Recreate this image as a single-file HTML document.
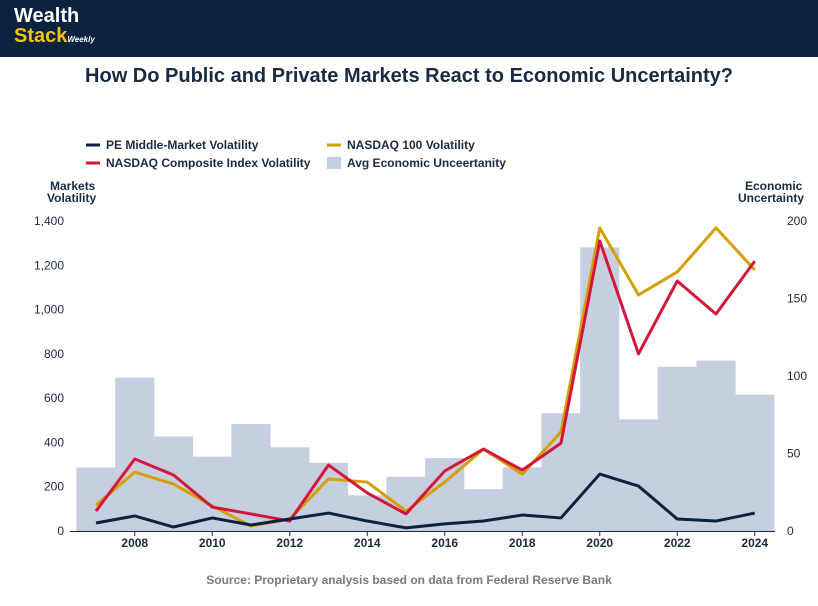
<!DOCTYPE html>
<html><head><meta charset="utf-8"><style>
body{margin:0;width:818px;height:606px;background:#fff;font-family:"Liberation Sans",sans-serif;overflow:hidden;position:relative}
#hdr{position:absolute;left:0;top:0;width:818px;height:57px;background:#0c2340}
.t{position:absolute}
</style></head><body>
<div id="hdr">
 <div class="t" style="left:14px;top:6px;line-height:20px;font-weight:bold;font-size:20px">
  <div style="color:#fff">Wealth</div>
  <div style="color:#f5c400">Stack<span style="color:#fff;font-size:8px;font-style:italic">Weekly</span></div>
 </div>
</div>
<div class="t" style="left:0;width:818px;top:65px;text-align:center;font-weight:bold;font-size:20px;color:#1a2a40">How Do Public and Private Markets React to Economic Uncertainty?</div>
<svg width="818" height="606" style="position:absolute;left:0;top:0" id="c">
<g font-family="Liberation Sans" font-size="12" font-weight="bold" fill="#1a2a40">
 <line x1="86" y1="145" x2="100" y2="145" stroke="#0c2340" stroke-width="3"/>
 <text x="106" y="149">PE Middle-Market Volatility</text>
 <line x1="86" y1="163" x2="100" y2="163" stroke="#d4163c" stroke-width="3"/>
 <text x="106" y="167">NASDAQ Composite Index Volatility</text>
 <line x1="327" y1="145" x2="341" y2="145" stroke="#d4a000" stroke-width="3"/>
 <text x="347" y="149">NASDAQ 100 Volatility</text>
 <rect x="327" y="157" width="14" height="12" fill="#c5cfe0"/>
 <text x="347" y="167">Avg Economic Unceertanity</text>
 <text x="50" y="190">Markets</text>
 <text x="47" y="202">Volatility</text>
 <text x="745" y="190">Economic</text>
 <text x="738" y="202">Uncertainty</text>
</g>
<g id="plot"></g>
<text x="409" y="584" text-anchor="middle" font-family="Liberation Sans" font-size="12" font-weight="bold" fill="#7a7a7a">Source: Proprietary analysis based on data from Federal Reserve Bank</text>
</svg>
<script>
const years=[2007,2008,2009,2010,2011,2012,2013,2014,2015,2016,2017,2018,2019,2020,2021,2022,2023,2024];
const econ=[41,99,61,48,69,54,44,23,35,47,27,41,76,183,72,106,110,88];
const composite=[90,325,253,108,77,45,298,172,77,271,370,275,397,1310,800,1129,980,1219];
const ndx=[117,266,212,113,23,54,235,221,90,221,370,257,447,1369,1066,1170,1369,1179];
const pe=[36,68,18,59,27,54,81,45,14,32,45,72,59,257,203,54,45,81];
const leftTicks=[0,200,400,600,800,1000,1200,1400];
const rightTicks=[0,50,100,150,200];
const xTicks=[2008,2010,2012,2014,2016,2018,2020,2022,2024];
const NS="http://www.w3.org/2000/svg",g=document.getElementById('plot');
const X=y=>96+(y-2007)*38.75, YL=v=>531-v*310/1400, YR=v=>531-v*310/200;
function mk(t,a){const e=document.createElementNS(NS,t);for(const k in a)e.setAttribute(k,a[k]);g.appendChild(e);return e;}
years.forEach((y,i)=>{const e=mk('rect',{x:X(y)-19.6,y:YR(econ[i]),width:39.2,height:531-YR(econ[i]),fill:'#c5cfe0'});

});
leftTicks.forEach(v=>{const e=mk('text',{x:64,y:YL(v)+4,'text-anchor':'end','font-family':'Liberation Sans','font-size':12,fill:'#1a2a40'});e.textContent=v.toLocaleString('en-US');

});
rightTicks.forEach(v=>{const e=mk('text',{x:787,y:YR(v)+4,'font-family':'Liberation Sans','font-size':12,fill:'#1a2a40'});e.textContent=v;

});
const ax=mk('line',{x1:70,y1:531.5,x2:775,y2:531.5,stroke:'#1a2a40'});


xTicks.forEach(y=>{mk('line',{x1:X(y),y1:531,x2:X(y),y2:536,stroke:'#1a2a40'});
const e=mk('text',{x:X(y),y:547,'text-anchor':'middle','font-family':'Liberation Sans','font-size':12,'font-weight':'bold',fill:'#1a2a40'});e.textContent=y;

});
[[ndx,'#d4a000','ndx-line'],[composite,'#d4163c','composite-line'],[pe,'#0c2340','pe-line']].forEach(([d,c,n])=>{
const e=mk('polyline',{points:d.map((v,i)=>X(years[i])+','+YL(v)).join(' '),fill:'none',stroke:c,'stroke-width':3,'stroke-linejoin':'round'});

});
</script>
</body></html>
